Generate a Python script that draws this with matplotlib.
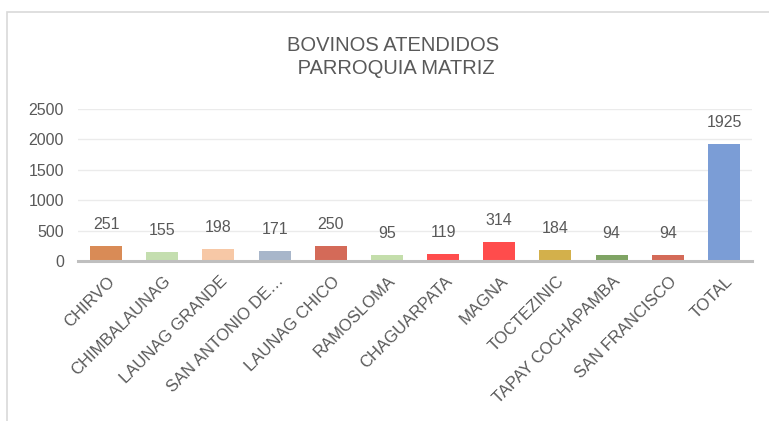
import numpy as np
import matplotlib.pyplot as plt
import matplotlib.transforms as mtransforms
from matplotlib.patches import Rectangle

plt.rcParams['font.family'] = ['Liberation Sans', 'DejaVu Sans']

parroquias = ['CHIRVO', 'CHIMBALAUNAG', 'LAUNAG GRANDE', 'SAN ANTONIO DE…',
              'LAUNAG CHICO', 'RAMOSLOMA', 'CHAGUARPATA', 'MAGNA', 'TOCTEZINIC',
              'TAPAY COCHAPAMBA', 'SAN FRANCISCO', 'TOTAL']
bovinos = [251, 155, 198, 171, 250, 95, 119, 314, 184, 94, 94, 1925]
colores = ['#D98B56', '#C4DEAF', '#F7C8A6', '#A8B6CA', '#D46A58', '#C4DEAB',
           '#FF4D4D', '#FF4C4C', '#D3B04B', '#7FA464', '#D46A58', '#7B9DD6']

texto = '#595959'

fig = plt.figure(figsize=(7.69, 4.21), dpi=100)
ax = fig.add_axes([0.1014, 0.380, 0.8766, 0.361])

x = np.arange(len(parroquias))
barras = ax.bar(x, bovinos, width=0.57, color=colores, zorder=2)

for b, v in zip(barras, bovinos):
    ax.annotate(str(v), (b.get_x() + b.get_width() / 2, v),
                xytext=(0, 10), textcoords='offset points',
                ha='center', va='bottom', fontsize=11.5, color=texto)

ax.set_xlim(-0.5, len(parroquias) - 0.5)
ax.set_ylim(0, 2500)
ax.set_yticks(range(0, 2501, 500))
ax.set_xticks(x)
ax.set_xticklabels(parroquias, rotation=45, ha='right', va='top', rotation_mode='anchor')
ax.tick_params(axis='y', length=0, pad=10, labelsize=11.5, labelcolor=texto)
ax.tick_params(axis='x', length=0, pad=9, labelsize=12, labelcolor=texto)

# empujar un poco las etiquetas a la derecha
desplaza = mtransforms.ScaledTranslation(1 / 100, 0, fig.dpi_scale_trans)
for lbl in ax.get_xticklabels():
    lbl.set_transform(lbl.get_transform() + desplaza)

ax.grid(axis='y', color='#EBEBEB', linewidth=1, zorder=0)
for lado in ['left', 'right', 'top']:
    ax.spines[lado].set_visible(False)
ax.spines['bottom'].set_color('#BFBFBF')
ax.spines['bottom'].set_linewidth(2.2)
ax.spines['bottom'].set_zorder(3)

fig.text(0.511, 0.864, 'BOVINOS ATENDIDOS\n PARROQUIA MATRIZ', ha='center', va='center',
         multialignment='center', fontsize=14.5, color=texto, linespacing=1.25)

fig.patches.append(Rectangle((7 / 769, -0.1), 2, 1.1 - 12 / 421, transform=fig.transFigure,
                             fill=False, edgecolor='#D9D9D9', linewidth=1.2))

fig.savefig('out.png', dpi=100)
